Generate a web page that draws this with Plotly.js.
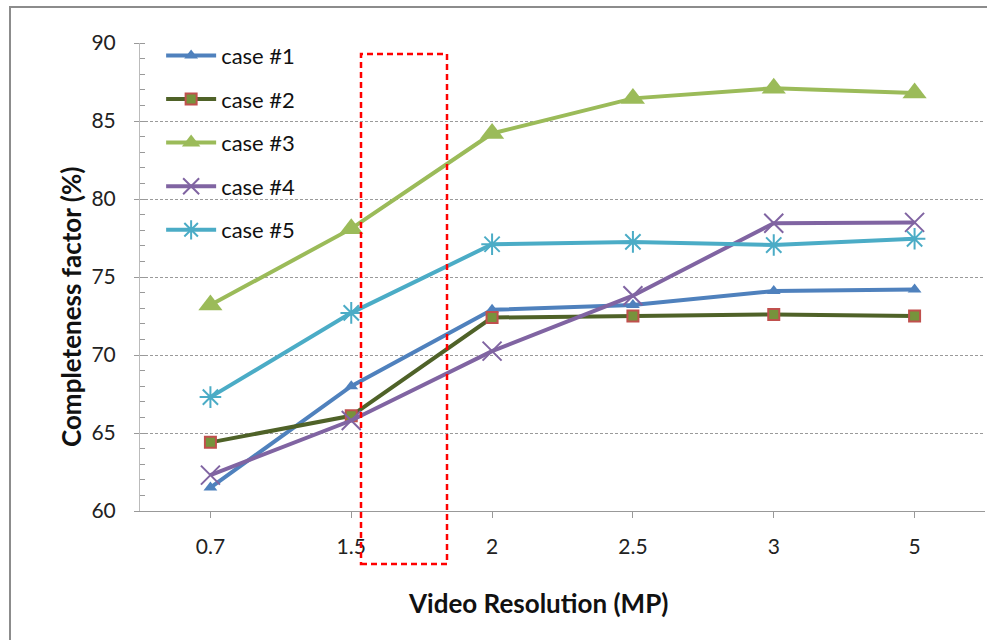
<!DOCTYPE html>
<html>
<head>
<meta charset="utf-8">
<script src="https://cdn.plot.ly/plotly-3.0.1.min.js"></script>
<style>html,body{margin:0;padding:0;background:#fff}#chart{width:987px;height:640px}</style>
</head>
<body>
<div id="chart"></div>
<script>
const categories = ["0.7", "1.5", "2", "2.5", "3", "5"];
const seriesNames = ["case #1", "case #2", "case #3", "case #4", "case #5"];
const case1 = [61.5, 68.0, 72.9, 73.2, 74.1, 74.2];
const case2 = [64.4, 66.1, 72.4, 72.5, 72.6, 72.5];
const case3 = [73.2, 78.1, 84.2, 86.45, 87.1, 86.8];
const case4 = [62.3, 65.8, 70.25, 73.8, 78.45, 78.5];
const case5 = [67.3, 72.7, 77.1, 77.25, 77.05, 77.45];
const yTicks = [60, 65, 70, 75, 80, 85, 90];

const values = [case1, case2, case3, case4, case5];
const colors = ["#4F81BD", "#4F6228", "#9BBB59", "#8064A2", "#4BACC6"];
const markers = [
  {symbol: "triangle-up", size: 12, color: "#4F81BD"},
  {symbol: "square", size: 11, color: "#77933C", line: {color: "#C0504D", width: 2}},
  {symbol: "triangle-up", size: 21, color: "#9BBB59"},
  {symbol: "x-thin-open", size: 19, color: "#8064A2", line: {color: "#8064A2", width: 2}},
  {symbol: "asterisk-open", size: 18, color: "#4BACC6", line: {color: "#4BACC6", width: 2}}
];

const traces = values.map((v, i) => ({
  type: "scatter",
  mode: "lines+markers",
  name: seriesNames[i],
  legendgroup: "g" + i,
  x: categories,
  y: v,
  line: {color: colors[i], width: 4},
  marker: markers[i],
  cliponaxis: false
}));

const W = 845, H = 468;
const FONT = "Lato, 'Open Sans', sans-serif";
const layout = {
  width: 987, height: 640,
  margin: {l: 140, r: 2, t: 43, b: 129},
  paper_bgcolor: "#fff", plot_bgcolor: "#fff",
  font: {family: FONT, size: 21, color: "#222"},
  showlegend: true,
  legend: {
    x: 0.025, y: 1.018, xanchor: "left", yanchor: "top",
    bgcolor: "rgba(0,0,0,0)", font: {size: 22, color: "#111"},
    itemwidth: 50, tracegroupgap: 12, traceorder: "grouped"
  },
  xaxis: {
    type: "category", range: [-0.5, 5.5],
    showgrid: false, zeroline: false,
    showline: true, linecolor: "#999", linewidth: 1,
    ticks: "outside", ticklen: 6, tickcolor: "#999",
    ticklabelstandoff: 11,
    tickfont: {size: 21, color: "#222"}
  },
  yaxis: {
    range: [60, 90], tickvals: yTicks, ticktext: yTicks.map(String),
    showgrid: true, gridcolor: "#9a9a9a", gridwidth: 1, griddash: "3px,2px",
    zeroline: false,
    showline: true, linecolor: "#bbb", linewidth: 1,
    ticks: "outside", ticklen: 5, tickcolor: "#999",
    ticklabelstandoff: 14,
    tickfont: {size: 21, color: "#222"},
    minor: {dtick: 1, ticks: "inside", ticklen: 5, tickcolor: "#999", showgrid: false}
  },
  annotations: [{
    text: "<b>Video Resolution (MP)</b>",
    xref: "paper", yref: "paper", x: (538 - 140) / W, y: (511 - 603) / H,
    xanchor: "center", yanchor: "middle", showarrow: false,
    font: {size: 26, color: "#111"}
  }, {
    text: "<b>Completeness factor (%)</b>", textangle: -90,
    xref: "paper", yref: "paper", x: (71 - 140) / W, y: (511 - 307) / H,
    xanchor: "center", yanchor: "middle", showarrow: false,
    font: {size: 26, color: "#111"}
  }],
  shapes: [
    {type: "rect", xref: "paper", yref: "paper",
     x0: (10 - 140) / W, x1: 1.2, y0: -0.5, y1: (511 - 7) / H,
     line: {color: "#8c8c8c", width: 2}, layer: "below"},
    {type: "rect", xref: "paper", yref: "paper",
     x0: (361 - 140) / W, x1: (447 - 140) / W, y0: (511 - 564) / H, y1: (511 - 54) / H,
     line: {color: "#FF0000", width: 2.5, dash: "6px,4px"}, layer: "above"}
  ]
};

Plotly.newPlot("chart", traces, layout, {displayModeBar: false, staticPlot: true});
</script>
</body>
</html>
